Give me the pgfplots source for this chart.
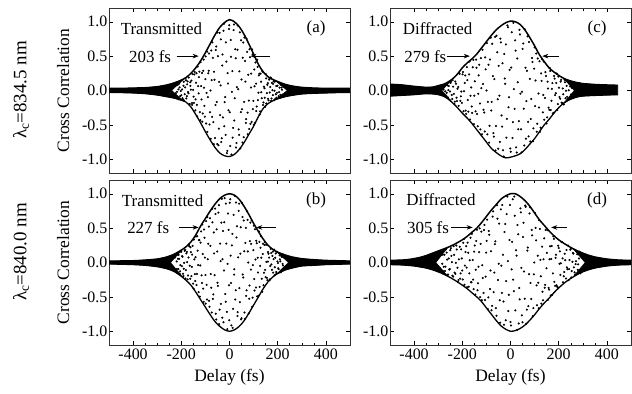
\documentclass[border=0pt]{standalone}
\usepackage{fontspec}
\setmainfont{Liberation Serif}
\usepackage{pgfplots}
\pgfplotsset{compat=1.18}
\usetikzlibrary{arrows.meta}
\tikzset{
  txt/.style={font=\fontsize{17}{17}\selectfont, inner sep=0pt},
  arr/.style={-{Stealth[length=6bp,width=4.5bp]}, line width=0.6bp},
}
\pgfplotsset{
  panel/.style={
    scale only axis, width=241bp, height=165bp,
    xmin=-500, xmax=500, ymin=-1.2, ymax=1.2,
    xtick={-400,-200,0,200,400}, minor x tick num=3,
    ytick={-1,-0.5,0,0.5,1},
    tick pos=both, tick align=inside,
    major tick length=4bp, minor tick length=2.5bp,
    every tick/.style={black, line width=0.5bp},
    axis line style={line width=0.8bp, black!80},
    /pgf/number format/assume math mode=true,
    yticklabel style={/pgf/number format/.cd, fixed, fixed zerofill, precision=1, /tikz/.cd, font=\fontsize{16}{16}\selectfont, inner sep=1.5bp},
    xticklabel style={font=\fontsize{16}{16}\selectfont},
    label style={font=\fontsize{17.5}{17.5}\selectfont},
    ylabel style={at={(axis description cs:-0.19,0.5)}, anchor=center, rotate=0},
    xlabel style={at={(axis description cs:0.5,-0.194)}, anchor=center},
  },
  dots/.style={only marks, mark=*, mark size=0.85bp, mark options={draw=none, fill=black}},
  upper/.style={black, line width=1.5bp, smooth, mark=none},
  lower/.style={black, line width=1.3bp, smooth, mark=none},
  wing/.style={fill=black, draw=black, line width=0.6bp, mark=none},
}
\begin{document}
\begin{tikzpicture}
\path[use as bounding box] (0,0) rectangle (632bp,-394bp);
\node[rotate=90, font=\fontsize{19}{19}\selectfont] at (21bp,-90bp) {λ\textsubscript{c}=834.5 nm};
\node[rotate=90, font=\fontsize{19}{19}\selectfont] at (21bp,-252bp) {λ\textsubscript{c}=840.0 nm};

% ---------------- (a) ----------------
\begin{axis}[panel, at={(109bp,-8bp)}, anchor=north west, xticklabels={}, ylabel={Cross Correlation}]
\addplot[wing] coordinates {(-500,0.03) (-450,0.03) (-400,0.035) (-350,0.04) (-300,0.055) (-260,0.08) (-230,0.11) (-190,0.17) (-240,0.0) (-190,-0.155) (-230,-0.11) (-260,-0.09) (-300,-0.065) (-350,-0.045) (-400,-0.035) (-450,-0.03) (-500,-0.03)} -- cycle;
\addplot[wing] coordinates {(190,0.145) (230,0.09) (260,0.065) (300,0.045) (350,0.035) (400,0.03) (450,0.03) (500,0.03) (500,-0.03) (450,-0.03) (400,-0.035) (350,-0.04) (300,-0.05) (260,-0.07) (230,-0.09) (190,-0.135) (240,0.0)} -- cycle;
\addplot[upper] coordinates {(-500,0.03) (-450,0.03) (-400,0.035) (-350,0.04) (-300,0.055) (-260,0.08) (-230,0.11) (-200,0.15) (-180,0.19) (-160,0.25) (-140,0.33) (-120,0.43) (-100,0.55) (-80,0.68) (-60,0.81) (-40,0.92) (-20,0.99) (0,1.03) (20,1.0) (40,0.93) (60,0.82) (80,0.68) (100,0.53) (120,0.38) (140,0.27) (160,0.2) (180,0.16) (200,0.13) (230,0.09) (260,0.065) (300,0.045) (350,0.035) (400,0.03) (450,0.03) (500,0.03)};
\addplot[lower] coordinates {(-500,-0.03) (-450,-0.03) (-400,-0.035) (-350,-0.045) (-300,-0.065) (-260,-0.09) (-230,-0.11) (-200,-0.14) (-180,-0.17) (-160,-0.24) (-140,-0.35) (-120,-0.47) (-100,-0.6) (-80,-0.72) (-60,-0.83) (-40,-0.91) (-20,-0.95) (0,-0.96) (20,-0.93) (40,-0.86) (60,-0.76) (80,-0.64) (100,-0.52) (120,-0.38) (140,-0.26) (160,-0.19) (180,-0.15) (200,-0.12) (230,-0.09) (260,-0.07) (300,-0.05) (350,-0.04) (400,-0.035) (450,-0.03) (500,-0.03)};
\addplot[dots] coordinates {(-226,0.106) (-223,-0.04) (-219,0.076) (-216,-0.106) (-212,0.016) (-209,0.1) (-205,-0.081) (-202,-0.007) (-198,0.15) (-195,-0.113) (-191,0.068) (-188,-0.147) (-184,0.045) (-181,0.149) (-177,-0.081) (-174,0.132) (-170,-0.041) (-167,-0.203) (-163,0.12) (-160,0.012) (-156,-0.182) (-153,0.239) (-149,-0.09) (-146,0.232) (-142,-0.289) (-139,0.112) (-135,-0.209) (-132,0.348) (-128,-0.042) (-125,0.273) (-121,-0.432) (-118,0.064) (-114,0.256) (-111,-0.335) (-107,0.449) (-104,-0.224) (-100,0.165) (-97,-0.48) (-93,0.565) (-90,-0.096) (-86,0.288) (-83,-0.493) (-79,0.0) (-76,0.582) (-72,-0.383) (-69,0.475) (-65,-0.781) (-62,0.156) (-58,-0.21) (-55,0.64) (-51,-0.779) (-48,0.499) (-44,-0.555) (-41,0.837) (-37,0.074) (-34,-0.75) (-30,0.363) (-27,-0.391) (-23,0.97) (-20,-0.17) (-16,-0.646) (-13,0.42) (-9,-0.879) (-6,0.101) (-2,0.896) (1,-0.317) (5,0.734) (8,-0.931) (12,0.283) (15,-0.545) (19,0.96) (22,-0.112) (26,0.47) (29,-0.764) (33,0.592) (36,0.019) (40,-0.645) (43,0.846) (47,-0.314) (50,0.16) (54,-0.758) (57,0.697) (61,-0.166) (64,0.429) (68,-0.472) (71,0.752) (75,-0.322) (78,0.229) (82,-0.561) (85,0.485) (89,0.043) (92,-0.456) (96,0.526) (99,-0.151) (103,0.306) (106,-0.47) (110,0.1) (113,-0.234) (117,0.344) (120,-0.032) (124,0.245) (127,-0.305) (131,0.128) (134,-0.112) (138,0.272) (141,-0.173) (145,0.033) (148,-0.238) (152,0.175) (155,-0.039) (159,0.107) (162,-0.144) (166,0.169) (169,0.051) (173,-0.15) (176,0.112) (180,-0.066) (183,0.134) (187,-0.003) (190,-0.122) (194,0.064) (197,-0.034) (201,0.122) (204,-0.083) (208,0.041) (211,-0.063) (215,0.087) (218,0.012) (222,-0.09) (225,0.057)
(-225,-0.094) (-221,0.109) (-218,-0.018) (-214,0.085) (-211,-0.127) (-207,0.045) (-204,0.128) (-200,-0.07) (-197,0.016) (-193,-0.131) (-190,0.128) (-186,-0.054) (-183,0.178) (-179,-0.116) (-176,0.09) (-172,-0.022) (-169,0.189) (-165,-0.195) (-162,0.067) (-158,0.144) (-155,-0.208) (-151,0.008) (-148,-0.18) (-144,0.27) (-141,-0.129) (-137,0.25) (-134,-0.376) (-130,0.064) (-127,0.195) (-123,-0.315) (-120,0.412) (-116,-0.13) (-113,-0.453) (-109,0.288) (-106,0.041) (-102,-0.381) (-99,0.495) (-95,-0.036) (-92,-0.602) (-88,0.25) (-85,0.538) (-81,-0.315) (-78,-0.703) (-74,0.151) (-71,0.701) (-67,-0.459) (-64,0.273) (-60,-0.692) (-57,0.59) (-53,-0.168) (-50,0.843) (-46,-0.796) (-43,0.126) (-39,-0.358) (-36,0.744) (-32,-0.695) (-29,0.525) (-25,0.869) (-22,-0.52) (-18,-0.095) (-15,0.7) (-11,-0.912) (-8,0.253) (-4,-0.287) (-1,0.948) (3,-0.806) (6,0.49) (10,-0.019) (13,-0.686) (17,0.879) (20,-0.437) (24,0.6) (27,-0.828) (31,0.049) (34,0.945) (38,-0.566) (41,0.279) (45,-0.843) (48,0.73) (52,-0.272) (55,0.476) (59,-0.679) (62,0.77) (66,0.13) (69,-0.415) (73,0.562) (76,-0.637) (80,-0.147) (83,0.599) (87,-0.485) (90,0.246) (94,0.597) (97,-0.27) (101,-0.497) (104,0.061) (108,0.408) (111,-0.297) (115,0.446) (118,-0.14) (122,0.22) (125,-0.351) (129,0.245) (132,-0.025) (136,0.285) (139,-0.211) (143,0.056) (146,-0.106) (150,0.24) (153,-0.189) (157,0.083) (160,-0.121) (164,0.158) (167,-0.029) (171,0.188) (174,-0.116) (178,0.004) (181,0.096) (185,-0.14) (188,0.128) (192,-0.056) (195,-0.104) (199,0.07) (202,0.12) (206,-0.024) (209,-0.106) (213,0.084) (216,0.042) (220,-0.063) (223,0.086) (227,-0.086)};
\node[txt, anchor=west] at (axis cs:-452,0.9) {Transmitted};
\node[txt] at (axis cs:359,0.9) {(a)};
\node[txt, anchor=west] at (axis cs:-417,0.5) {203 fs};
\draw[arr] (axis cs:-219,0.5) -- (axis cs:-128,0.5);
\draw[arr] (axis cs:169,0.5) -- (axis cs:87,0.5);
\end{axis}

% ---------------- (b) ----------------
\begin{axis}[panel, at={(109bp,-180bp)}, anchor=north west, ylabel={Cross Correlation}, xlabel={Delay (fs)}]
\addplot[wing] coordinates {(-500,0.02) (-450,0.022) (-400,0.025) (-350,0.035) (-300,0.05) (-260,0.08) (-230,0.12) (-195,0.19) (-245,0.0) (-195,-0.21) (-230,-0.13) (-260,-0.09) (-300,-0.06) (-350,-0.04) (-400,-0.03) (-450,-0.025) (-500,-0.02)} -- cycle;
\addplot[wing] coordinates {(195,0.16) (230,0.11) (260,0.08) (300,0.055) (350,0.04) (400,0.03) (450,0.025) (500,0.02) (500,-0.02) (450,-0.025) (400,-0.03) (350,-0.04) (300,-0.05) (260,-0.08) (230,-0.11) (195,-0.17) (245,0.0)} -- cycle;
\addplot[upper] coordinates {(-500,0.02) (-450,0.022) (-400,0.025) (-350,0.035) (-300,0.05) (-260,0.08) (-230,0.12) (-200,0.18) (-180,0.23) (-160,0.3) (-140,0.4) (-120,0.53) (-100,0.64) (-80,0.75) (-60,0.85) (-40,0.93) (-20,0.98) (0,1.0) (20,0.98) (40,0.92) (60,0.82) (80,0.7) (100,0.57) (120,0.45) (140,0.34) (160,0.25) (180,0.19) (200,0.15) (230,0.11) (260,0.08) (300,0.055) (350,0.04) (400,0.03) (450,0.025) (500,0.02)};
\addplot[lower] coordinates {(-500,-0.02) (-450,-0.025) (-400,-0.03) (-350,-0.04) (-300,-0.06) (-260,-0.09) (-230,-0.13) (-200,-0.2) (-180,-0.26) (-160,-0.33) (-140,-0.43) (-120,-0.54) (-100,-0.65) (-80,-0.76) (-60,-0.86) (-40,-0.93) (-20,-0.98) (0,-1.0) (20,-0.98) (40,-0.93) (60,-0.85) (80,-0.74) (100,-0.62) (120,-0.5) (140,-0.38) (160,-0.28) (180,-0.21) (200,-0.16) (230,-0.11) (260,-0.08) (300,-0.05) (350,-0.04) (400,-0.03) (450,-0.025) (500,-0.02)};
\addplot[dots] coordinates {(-226,0.074) (-223,-0.133) (-219,0.016) (-216,0.115) (-212,-0.097) (-209,0.054) (-205,-0.128) (-202,0.16) (-198,-0.053) (-195,0.085) (-191,-0.196) (-188,-0.005) (-184,0.185) (-181,-0.11) (-177,0.154) (-174,-0.246) (-170,0.072) (-167,0.236) (-163,-0.237) (-160,0.151) (-156,-0.063) (-153,0.243) (-149,-0.381) (-146,0.046) (-142,-0.269) (-139,0.378) (-135,-0.166) (-132,0.172) (-128,-0.43) (-125,0.326) (-121,-0.043) (-118,0.452) (-114,-0.299) (-111,0.124) (-107,-0.573) (-104,0.36) (-100,-0.182) (-97,0.602) (-93,-0.538) (-90,0.048) (-86,0.522) (-83,-0.645) (-79,0.242) (-76,-0.367) (-72,0.782) (-69,-0.528) (-65,0.437) (-62,-0.184) (-58,0.705) (-55,-0.83) (-51,0.159) (-48,-0.34) (-44,0.833) (-41,-0.686) (-37,0.019) (-34,0.58) (-30,-0.802) (-27,0.458) (-23,-0.117) (-20,0.936) (-16,-0.571) (-13,0.276) (-9,-0.97) (-6,0.713) (-2,-0.33) (1,0.87) (5,0.1) (8,-0.915) (12,0.416) (15,-0.673) (19,-0.176) (22,0.97) (26,-0.405) (29,0.365) (33,-0.779) (36,0.075) (40,0.856) (43,-0.577) (47,0.513) (50,-0.81) (54,0.663) (57,-0.219) (61,0.163) (64,-0.82) (68,0.504) (71,-0.405) (75,0.621) (78,0.0) (82,-0.526) (85,0.311) (89,-0.103) (92,0.613) (96,-0.512) (99,0.179) (103,-0.24) (106,0.484) (110,-0.364) (113,0.281) (117,0.07) (120,-0.484) (124,0.301) (127,-0.048) (131,0.382) (134,-0.237) (138,0.123) (141,-0.332) (145,0.256) (148,-0.107) (152,0.257) (155,-0.224) (159,0.013) (162,0.128) (166,-0.257) (169,-0.052) (173,0.139) (176,-0.106) (180,0.158) (183,0.048) (187,-0.185) (190,0.07) (194,-0.137) (197,0.155) (201,-0.008) (204,-0.096) (208,0.105) (211,0.017) (215,-0.114) (218,0.079) (222,-0.042) (225,0.11)
(-225,-0.126) (-221,0.112) (-218,-0.093) (-214,0.055) (-211,0.112) (-207,-0.163) (-204,-0.037) (-200,0.156) (-197,0.093) (-193,-0.164) (-190,-0.09) (-186,0.17) (-183,-0.233) (-179,0.132) (-176,0.005) (-172,-0.189) (-169,0.262) (-165,-0.047) (-162,0.223) (-158,-0.198) (-155,0.115) (-151,-0.308) (-148,0.334) (-144,-0.169) (-141,0.078) (-137,-0.328) (-134,0.383) (-130,-0.037) (-127,0.326) (-123,-0.495) (-120,0.289) (-116,-0.187) (-113,0.554) (-109,-0.38) (-106,0.48) (-102,0.072) (-99,-0.598) (-95,-0.325) (-92,0.66) (-88,0.272) (-85,-0.558) (-81,0.644) (-78,-0.168) (-74,-0.727) (-71,0.585) (-67,-0.464) (-64,0.132) (-60,0.784) (-57,-0.744) (-53,0.482) (-50,-0.295) (-46,0.726) (-43,-0.897) (-39,0.275) (-36,-0.602) (-32,0.926) (-29,0.048) (-25,-0.869) (-22,0.585) (-18,-0.458) (-15,0.857) (-11,-0.719) (-8,-0.02) (-4,0.475) (-1,-0.84) (3,0.92) (6,-0.299) (10,0.249) (13,-0.95) (17,0.693) (20,-0.098) (24,-0.539) (27,0.874) (31,0.528) (34,-0.722) (38,0.752) (41,-0.372) (45,0.129) (48,-0.828) (52,0.867) (55,-0.175) (59,0.612) (62,-0.727) (66,0.285) (69,-0.486) (73,0.744) (76,0.161) (80,-0.742) (83,-0.336) (87,0.58) (90,0.271) (94,-0.644) (97,-0.038) (101,0.536) (104,-0.408) (108,0.044) (111,0.316) (115,-0.493) (118,-0.146) (122,0.451) (125,-0.356) (129,0.215) (132,0.07) (136,-0.426) (139,0.273) (143,-0.148) (146,0.298) (150,-0.213) (153,0.009) (157,-0.256) (160,0.153) (164,0.071) (167,-0.247) (171,0.198) (174,-0.028) (178,0.095) (181,-0.147) (185,0.188) (188,-0.068) (192,0.131) (195,-0.158) (199,0.016) (202,-0.083) (206,0.132) (209,0.046) (213,-0.142) (216,0.088) (220,-0.02) (223,0.114) (227,-0.098)};
\node[txt, anchor=west] at (axis cs:-447,0.9) {Transmitted};
\node[txt] at (axis cs:359,0.9) {(b)};
\node[txt, anchor=west] at (axis cs:-425,0.51) {227 fs};
\draw[arr] (axis cs:-210,0.51) -- (axis cs:-128,0.51);
\draw[arr] (axis cs:194,0.51) -- (axis cs:111,0.51);
\end{axis}

% ---------------- (c) ----------------
\begin{axis}[panel, at={(390bp,-8bp)}, anchor=north west, xticklabels={}]
\addplot[wing] coordinates {(-500,0.09) (-450,0.08) (-400,0.06) (-350,0.045) (-320,0.05) (-300,0.07) (-270,0.1) (-240,0.17) (-285,0.0) (-240,-0.18) (-260,-0.12) (-280,-0.08) (-300,-0.06) (-320,-0.05) (-350,-0.045) (-400,-0.06) (-450,-0.07) (-500,-0.08)} -- cycle;
\addplot[wing] coordinates {(220,0.18) (245,0.145) (270,0.12) (300,0.1) (360,0.085) (400,0.08) (445,0.075) (445,-0.06) (400,-0.065) (360,-0.07) (300,-0.08) (270,-0.1) (245,-0.135) (220,-0.19) (265,0.0)} -- cycle;
\addplot[upper] coordinates {(-500,0.09) (-450,0.08) (-400,0.06) (-350,0.045) (-320,0.05) (-300,0.07) (-270,0.1) (-240,0.17) (-220,0.24) (-200,0.33) (-180,0.4) (-160,0.46) (-140,0.53) (-120,0.62) (-100,0.71) (-80,0.8) (-60,0.88) (-40,0.94) (-20,0.985) (0,1.01) (20,1.0) (40,0.96) (60,0.88) (80,0.77) (100,0.65) (120,0.52) (140,0.42) (160,0.33) (180,0.27) (200,0.22) (230,0.16) (270,0.12) (300,0.1) (360,0.085) (400,0.08) (445,0.075)};
\addplot[lower] coordinates {(-500,-0.08) (-450,-0.07) (-400,-0.06) (-350,-0.045) (-320,-0.05) (-300,-0.06) (-280,-0.08) (-260,-0.12) (-240,-0.18) (-220,-0.25) (-200,-0.33) (-180,-0.4) (-160,-0.48) (-140,-0.57) (-120,-0.66) (-100,-0.75) (-80,-0.84) (-60,-0.9) (-40,-0.95) (-20,-0.98) (0,-0.97) (20,-0.95) (40,-0.92) (60,-0.86) (80,-0.78) (100,-0.7) (120,-0.6) (140,-0.5) (160,-0.42) (180,-0.33) (200,-0.25) (230,-0.16) (270,-0.1) (300,-0.08) (360,-0.07) (400,-0.065) (445,-0.06)};
\addplot[dots] coordinates {(-289,-0.064) (-285,0.028) (-280,-0.049) (-276,0.079) (-271,-0.012) (-267,-0.075) (-262,0.075) (-258,0.006) (-253,-0.136) (-249,0.109) (-244,-0.066) (-240,0.152) (-235,-0.049) (-231,-0.162) (-226,0.099) (-222,-0.152) (-217,0.051) (-213,0.252) (-208,-0.15) (-204,-0.015) (-199,0.235) (-195,-0.302) (-190,0.11) (-186,-0.292) (-181,0.34) (-177,-0.138) (-172,0.234) (-168,-0.421) (-163,0.045) (-159,-0.326) (-154,0.446) (-150,-0.076) (-145,-0.303) (-141,0.332) (-136,-0.519) (-132,0.22) (-127,-0.189) (-123,0.472) (-118,-0.637) (-114,0.095) (-109,-0.32) (-105,0.482) (-100,0.0) (-96,-0.638) (-91,0.375) (-87,-0.514) (-82,0.766) (-78,-0.166) (-73,0.208) (-69,-0.671) (-64,0.779) (-60,-0.516) (-55,0.555) (-51,-0.846) (-46,-0.075) (-42,0.754) (-37,-0.363) (-33,0.397) (-28,-0.96) (-24,0.174) (-19,0.67) (-15,-0.412) (-10,0.92) (-6,-0.098) (-1,-0.844) (3,0.333) (8,-0.691) (12,0.985) (17,-0.266) (21,0.58) (26,-0.902) (30,0.119) (35,-0.446) (39,0.815) (44,-0.564) (48,-0.018) (53,0.683) (57,-0.801) (62,0.331) (66,-0.154) (71,0.787) (75,-0.668) (80,0.169) (84,-0.413) (89,0.472) (93,-0.738) (98,0.317) (102,-0.227) (107,0.538) (111,-0.485) (116,-0.043) (120,0.425) (125,-0.541) (129,0.139) (134,-0.318) (138,0.423) (143,-0.108) (147,0.211) (152,-0.391) (156,0.029) (161,-0.282) (165,0.284) (170,-0.15) (174,0.108) (179,-0.325) (183,0.173) (188,-0.039) (192,0.248) (197,-0.198) (201,0.041) (206,-0.12) (210,0.155) (215,-0.182) (219,-0.055) (224,0.155) (228,-0.112) (233,0.068) (237,-0.13) (242,0.003) (246,0.126) (251,-0.058) (255,0.036) (260,-0.108) (264,0.09) (269,-0.034) (273,0.068) (278,-0.075) (282,-0.01) (287,0.105) (291,-0.051)
(-287,0.066) (-283,-0.067) (-278,0.014) (-274,-0.054) (-269,0.098) (-265,-0.033) (-260,-0.101) (-256,0.065) (-251,-0.014) (-247,0.126) (-242,-0.124) (-238,0.056) (-233,-0.193) (-229,0.13) (-224,-0.104) (-220,0.026) (-215,-0.224) (-211,0.242) (-206,-0.084) (-202,-0.18) (-197,0.268) (-193,-0.01) (-188,0.219) (-184,-0.339) (-179,0.152) (-175,-0.308) (-170,0.421) (-166,-0.077) (-161,-0.233) (-157,0.338) (-152,-0.49) (-148,0.134) (-143,0.449) (-139,-0.341) (-134,-0.047) (-130,0.374) (-125,-0.567) (-121,0.035) (-116,0.592) (-112,-0.281) (-107,-0.596) (-103,0.308) (-98,0.689) (-94,-0.165) (-89,-0.758) (-85,0.45) (-80,-0.291) (-76,0.679) (-71,-0.619) (-67,0.166) (-62,-0.872) (-58,0.796) (-53,-0.127) (-49,0.358) (-44,-0.748) (-40,0.699) (-35,-0.525) (-31,-0.869) (-26,0.531) (-22,0.097) (-17,-0.686) (-13,0.946) (-8,-0.244) (-4,0.3) (1,-0.892) (5,0.848) (10,-0.461) (14,0.02) (19,0.73) (23,-0.827) (28,0.465) (32,-0.564) (37,0.883) (41,-0.047) (46,-0.901) (50,0.605) (55,-0.264) (59,0.892) (64,-0.701) (68,0.287) (73,-0.456) (77,0.705) (82,-0.741) (86,-0.125) (91,0.415) (95,-0.551) (100,0.627) (104,0.145) (109,-0.599) (113,0.466) (118,-0.248) (122,-0.601) (127,0.248) (131,0.455) (136,-0.064) (140,-0.424) (145,0.267) (149,-0.48) (154,0.128) (158,-0.25) (163,0.327) (167,-0.282) (172,0.024) (176,-0.334) (181,0.211) (185,-0.067) (190,0.11) (194,-0.282) (199,0.202) (203,-0.094) (208,0.13) (212,-0.177) (217,0.03) (221,-0.203) (226,0.119) (230,-0.004) (235,-0.093) (239,0.144) (244,-0.119) (248,0.058)};
\node[txt, anchor=west] at (axis cs:-447,0.9) {Diffracted};
\node[txt] at (axis cs:359,0.9) {(c)};
\node[txt, anchor=west] at (axis cs:-441,0.5) {279 fs};
\draw[arr] (axis cs:-265,0.5) -- (axis cs:-169,0.5);
\draw[arr] (axis cs:202,0.5) -- (axis cs:132,0.5);
\end{axis}

% ---------------- (d) ----------------
\begin{axis}[panel, at={(390bp,-180bp)}, anchor=north west, xlabel={Delay (fs)}]
\addplot[wing] coordinates {(-500,0.03) (-450,0.035) (-420,0.045) (-380,0.07) (-350,0.1) (-320,0.14) (-290,0.18) (-260,0.22) (-310,0.0) (-260,-0.2) (-290,-0.15) (-320,-0.11) (-350,-0.08) (-400,-0.05) (-450,-0.035) (-500,-0.03)} -- cycle;
\addplot[wing] coordinates {(260,0.2) (290,0.15) (320,0.11) (350,0.08) (400,0.05) (450,0.035) (500,0.03) (500,-0.03) (450,-0.035) (400,-0.05) (350,-0.08) (320,-0.11) (290,-0.15) (260,-0.21) (310,0.0)} -- cycle;
\addplot[upper] coordinates {(-500,0.03) (-450,0.035) (-420,0.045) (-380,0.07) (-350,0.1) (-320,0.14) (-290,0.18) (-260,0.22) (-230,0.27) (-200,0.33) (-180,0.38) (-160,0.44) (-140,0.5) (-120,0.58) (-100,0.67) (-80,0.76) (-60,0.84) (-40,0.92) (-20,0.97) (0,1.0) (20,1.0) (40,0.96) (60,0.9) (80,0.82) (100,0.72) (120,0.62) (140,0.54) (160,0.46) (180,0.39) (200,0.33) (230,0.26) (260,0.2) (290,0.15) (320,0.11) (350,0.08) (400,0.05) (450,0.035) (500,0.03)};
\addplot[lower] coordinates {(-500,-0.03) (-450,-0.035) (-400,-0.05) (-350,-0.08) (-320,-0.11) (-290,-0.15) (-260,-0.2) (-230,-0.26) (-200,-0.33) (-180,-0.38) (-160,-0.44) (-140,-0.5) (-120,-0.57) (-100,-0.66) (-80,-0.75) (-60,-0.84) (-40,-0.92) (-20,-0.97) (0,-1.0) (20,-0.99) (40,-0.96) (60,-0.91) (80,-0.84) (100,-0.76) (120,-0.67) (140,-0.59) (160,-0.52) (180,-0.44) (200,-0.37) (230,-0.28) (260,-0.21) (290,-0.15) (320,-0.11) (350,-0.08) (400,-0.05) (450,-0.035) (500,-0.03)};
\addplot[dots] coordinates {(-292,-0.086) (-288,0.171) (-283,-0.018) (-279,-0.126) (-274,0.114) (-270,-0.06) (-265,0.145) (-261,-0.179) (-256,0.059) (-252,-0.094) (-247,0.209) (-243,0.005) (-238,-0.206) (-234,0.112) (-229,-0.166) (-225,0.246) (-220,-0.077) (-216,-0.254) (-211,0.229) (-207,-0.159) (-202,0.059) (-198,-0.247) (-193,0.342) (-189,-0.045) (-184,0.237) (-180,-0.359) (-175,0.142) (-171,-0.158) (-166,0.361) (-162,-0.286) (-157,0.036) (-153,-0.387) (-148,0.247) (-144,-0.105) (-139,0.475) (-135,-0.303) (-130,0.151) (-126,-0.503) (-121,0.449) (-117,-0.04) (-112,-0.442) (-108,0.547) (-103,-0.206) (-99,0.314) (-94,-0.678) (-90,0.459) (-85,-0.387) (-81,0.163) (-76,-0.631) (-72,0.744) (-67,-0.146) (-63,0.308) (-58,-0.774) (-54,0.638) (-49,-0.018) (-45,-0.549) (-40,0.773) (-36,-0.442) (-31,0.113) (-27,-0.907) (-22,0.56) (-18,-0.27) (-13,0.96) (-9,-0.706) (-4,0.328) (0,-0.866) (5,-0.1) (9,0.92) (14,-0.418) (18,0.68) (23,0.179) (27,-0.98) (32,0.41) (36,-0.371) (41,0.787) (45,-0.077) (50,-0.87) (54,0.577) (59,-0.528) (63,0.81) (68,-0.686) (72,0.218) (77,-0.17) (81,0.805) (86,-0.53) (90,0.395) (95,-0.663) (99,0.0) (104,0.504) (108,-0.333) (113,0.098) (117,-0.665) (122,0.488) (126,-0.2) (131,0.23) (135,-0.55) (140,0.351) (144,-0.325) (149,-0.084) (153,0.47) (158,-0.368) (162,0.047) (167,-0.48) (171,0.239) (176,-0.159) (180,0.344) (185,-0.34) (189,0.113) (194,-0.351) (198,0.245) (203,-0.018) (207,-0.18) (212,0.297) (216,0.06) (221,-0.201) (225,0.126) (230,-0.232) (234,-0.07) (239,0.247) (243,-0.096) (248,0.187) (252,-0.218) (257,0.01) (261,0.129) (266,-0.143) (270,-0.023) (275,0.158) (279,-0.107) (284,0.058) (288,-0.147)
(-290,0.162) (-286,-0.129) (-281,0.114) (-277,-0.061) (-272,-0.123) (-268,0.192) (-263,0.042) (-259,-0.175) (-254,-0.103) (-250,0.18) (-245,0.096) (-241,-0.191) (-236,0.237) (-232,-0.147) (-227,-0.005) (-223,0.189) (-218,-0.282) (-214,0.046) (-209,-0.235) (-205,0.192) (-200,-0.117) (-196,0.286) (-191,-0.324) (-187,0.152) (-182,-0.074) (-178,0.289) (-173,-0.352) (-169,0.032) (-164,-0.286) (-160,0.416) (-155,-0.248) (-151,0.158) (-146,-0.466) (-142,0.314) (-137,-0.404) (-133,-0.061) (-128,0.497) (-124,0.27) (-119,-0.548) (-115,-0.226) (-110,0.474) (-106,-0.545) (-101,0.144) (-97,0.622) (-92,-0.507) (-88,0.403) (-83,-0.117) (-79,-0.694) (-74,0.667) (-70,-0.431) (-65,0.267) (-61,-0.664) (-56,0.833) (-52,-0.255) (-47,0.566) (-43,-0.876) (-38,-0.046) (-34,0.837) (-29,-0.567) (-25,0.444) (-20,-0.84) (-16,0.704) (-11,0.02) (-7,-0.47) (-2,0.836) (2,-0.915) (7,0.3) (11,-0.25) (16,0.96) (20,-0.697) (25,0.1) (29,0.547) (34,-0.887) (38,-0.536) (43,0.73) (47,-0.768) (52,0.372) (56,-0.131) (61,0.828) (65,-0.892) (70,0.174) (74,-0.634) (79,0.714) (83,-0.298) (88,0.474) (92,-0.782) (97,-0.172) (101,0.723) (106,0.322) (110,-0.622) (115,-0.294) (119,0.616) (124,0.037) (128,-0.599) (133,-0.425) (137,0.046) (142,-0.366) (146,0.475) (151,0.141) (155,-0.543) (160,-0.394) (164,0.235) (169,0.052) (173,-0.47) (178,0.381) (182,-0.282) (187,0.068) (191,-0.332) (196,-0.363) (200,0.21) (205,0.163) (209,-0.011) (214,0.297) (218,-0.288) (223,-0.137) (227,0.034) (232,0.182) (236,-0.098) (241,-0.257) (245,0.036) (250,0.198) (254,-0.125) (259,0.139) (263,-0.071) (268,-0.176) (272,0.019) (277,0.119) (281,-0.027) (286,0.157) (290,-0.157)};
\node[txt, anchor=west] at (axis cs:-433,0.91) {Diffracted};
\node[txt] at (axis cs:359,0.91) {(d)};
\node[txt, anchor=west] at (axis cs:-430,0.51) {305 fs};
\draw[arr] (axis cs:-245,0.51) -- (axis cs:-157,0.51);
\draw[arr] (axis cs:235,0.51) -- (axis cs:169,0.51);
\end{axis}
\end{tikzpicture}
\end{document}
